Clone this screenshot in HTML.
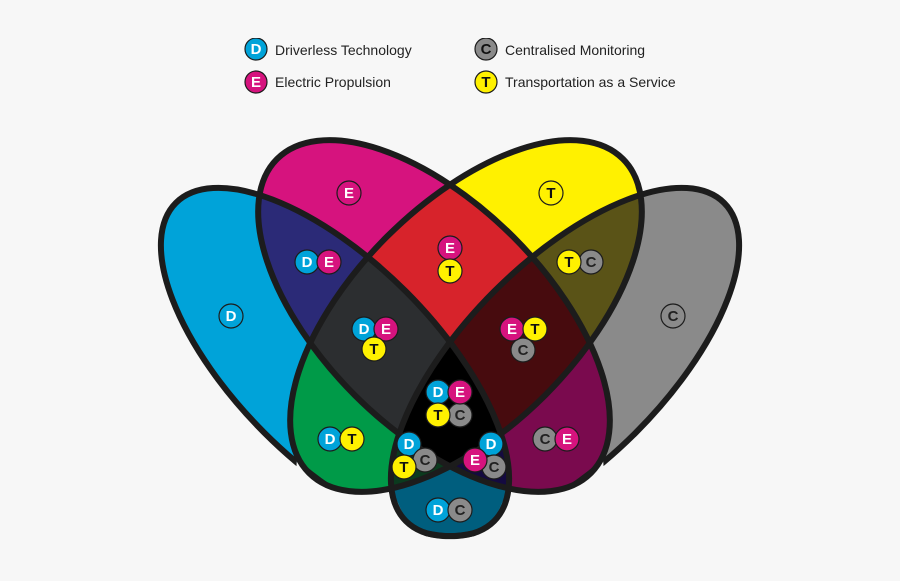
<!DOCTYPE html>
<html><head><meta charset="utf-8"><style>
html,body{margin:0;padding:0;background:#f7f7f7;}
svg{display:block;}
.lt{font-family:"Liberation Sans",sans-serif;font-size:14px;fill:#222;}
</style></head><body>
<svg width="900" height="581" viewBox="0 0 900 581" xmlns="http://www.w3.org/2000/svg">
<defs>
<ellipse id="eD" cx="335" cy="362" rx="225" ry="100" transform="rotate(45 335 362)"/>
<ellipse id="eC" cx="565" cy="362" rx="225" ry="100" transform="rotate(-45 565 362)"/>
<ellipse id="eE" cx="434" cy="316" rx="222" ry="112" transform="rotate(45 434 316)"/>
<ellipse id="eT" cx="466" cy="316" rx="222" ry="112" transform="rotate(-45 466 316)"/>
<clipPath id="pD"><polygon points="0,0 900,0 900,581 470,581 463,560 440,545 420,533 406,521 391,487 370,491 335,488 309,473 297,457 290,581 0,581"/></clipPath>
<clipPath id="pC"><polygon points="900,0 0,0 0,581 430,581 437,560 460,545 480,533 494,521 509,487 530,491 565,488 591,473 603,457 610,581 900,581"/></clipPath>
<clipPath id="cD"><use href="#eD" clip-path="url(#pD)"/></clipPath>
<clipPath id="cC"><use href="#eC" clip-path="url(#pC)"/></clipPath>
<clipPath id="cE"><use href="#eE"/></clipPath>
<clipPath id="cT"><use href="#eT"/></clipPath>
</defs>
<rect width="900" height="581" fill="#f7f7f7"/>
<g clip-path="url(#pD)"><use href="#eD" fill="#00a3d9"/></g>
<g clip-path="url(#pC)"><use href="#eC" fill="#8a8a8a"/></g>
<use href="#eE" fill="#d6137e"/>
<use href="#eT" fill="#fff100"/>
<g clip-path="url(#cD)"><use href="#eE" fill="#2b2a77"/></g>
<g clip-path="url(#cD)"><use href="#eT" fill="#009a48"/></g>
<g clip-path="url(#cD)"><g clip-path="url(#pC)"><use href="#eC" fill="#005e7e"/></g></g>
<g clip-path="url(#cE)"><use href="#eT" fill="#d7232b"/></g>
<g clip-path="url(#cE)"><g clip-path="url(#pC)"><use href="#eC" fill="#7a0a4e"/></g></g>
<g clip-path="url(#cT)"><g clip-path="url(#pC)"><use href="#eC" fill="#5a5317"/></g></g>
<g clip-path="url(#cD)"><g clip-path="url(#cE)"><use href="#eT" fill="#2c2e30"/></g></g>
<g clip-path="url(#cE)"><g clip-path="url(#cT)"><g clip-path="url(#pC)"><use href="#eC" fill="#470b0e"/></g></g></g>
<g clip-path="url(#cD)"><g clip-path="url(#cT)"><g clip-path="url(#pC)"><use href="#eC" fill="#0b3a1e"/></g></g></g>
<g clip-path="url(#cD)"><g clip-path="url(#cE)"><g clip-path="url(#pC)"><use href="#eC" fill="#140a40"/></g></g></g>
<g clip-path="url(#cD)"><g clip-path="url(#cE)"><g clip-path="url(#cT)"><g clip-path="url(#pC)"><use href="#eC" fill="#000"/></g></g></g></g>
<g fill="none" stroke="#1c1c1c" stroke-width="6">
<g clip-path="url(#pD)"><use href="#eD"/></g>
<g clip-path="url(#pC)"><use href="#eC"/></g>
<use href="#eE"/><use href="#eT"/>
</g>
<rect x="0" y="541" width="900" height="40" fill="#f7f7f7"/>

<g font-family="Liberation Sans" font-weight="bold" font-size="15" text-anchor="middle">
<g fill="#00a3d9" stroke="#1c1c1c" stroke-width="1.2">
<circle cx="231" cy="316" r="12"/><circle cx="307" cy="262" r="12"/><circle cx="364" cy="329" r="12"/>
<circle cx="438" cy="392" r="12"/><circle cx="330" cy="439" r="12"/><circle cx="409" cy="444" r="12"/>
<circle cx="491" cy="444" r="12"/><circle cx="438" cy="510" r="12"/>
</g>
<g fill="#fff">
<text x="231" y="321">D</text><text x="307" y="267">D</text><text x="364" y="334">D</text>
<text x="438" y="397">D</text><text x="330" y="444">D</text><text x="409" y="449">D</text>
<text x="491" y="449">D</text><text x="438" y="515">D</text>
</g>
<g fill="#8a8a8a" stroke="#1c1c1c" stroke-width="1.2">
<circle cx="673" cy="316" r="12"/><circle cx="591" cy="262" r="12"/><circle cx="523" cy="350" r="12"/>
<circle cx="460" cy="415" r="12"/><circle cx="545" cy="439" r="12"/><circle cx="425" cy="460" r="12"/>
<circle cx="494" cy="467" r="12"/><circle cx="460" cy="510" r="12"/>
</g>
<g fill="#222">
<text x="673" y="321">C</text><text x="591" y="267">C</text><text x="523" y="355">C</text>
<text x="460" y="420">C</text><text x="545" y="444">C</text><text x="425" y="465">C</text>
<text x="494" y="472">C</text><text x="460" y="515">C</text>
</g>
<g fill="#d6137e" stroke="#1c1c1c" stroke-width="1.2">
<circle cx="349" cy="193" r="12"/><circle cx="329" cy="262" r="12"/><circle cx="450" cy="248" r="12"/>
<circle cx="386" cy="329" r="12"/><circle cx="512" cy="329" r="12"/><circle cx="460" cy="392" r="12"/>
<circle cx="567" cy="439" r="12"/><circle cx="475" cy="460" r="12"/>
</g>
<g fill="#fff">
<text x="349" y="198">E</text><text x="329" y="267">E</text><text x="450" y="253">E</text>
<text x="386" y="334">E</text><text x="512" y="334">E</text><text x="460" y="397">E</text>
<text x="567" y="444">E</text><text x="475" y="465">E</text>
</g>
<g fill="#fff100" stroke="#1c1c1c" stroke-width="1.2">
<circle cx="551" cy="193" r="12"/><circle cx="450" cy="271" r="12"/><circle cx="569" cy="262" r="12"/>
<circle cx="374" cy="349" r="12"/><circle cx="535" cy="329" r="12"/><circle cx="438" cy="415" r="12"/>
<circle cx="352" cy="439" r="12"/><circle cx="404" cy="467" r="12"/>
</g>
<g fill="#111">
<text x="551" y="198">T</text><text x="450" y="276">T</text><text x="569" y="267">T</text>
<text x="374" y="354">T</text><text x="535" y="334">T</text><text x="438" y="420">T</text>
<text x="352" y="444">T</text><text x="404" y="472">T</text>
</g>
<circle cx="256" cy="49" r="11" fill="#00a3d9" stroke="#1c1c1c" stroke-width="1.2"/>
<text x="256" y="54" fill="#fff">D</text>
<circle cx="256" cy="82" r="11" fill="#d6137e" stroke="#1c1c1c" stroke-width="1.2"/>
<text x="256" y="87" fill="#fff">E</text>
<circle cx="486" cy="49" r="11" fill="#8a8a8a" stroke="#1c1c1c" stroke-width="1.2"/>
<text x="486" y="54" fill="#111">C</text>
<circle cx="486" cy="82" r="11" fill="#fff100" stroke="#1c1c1c" stroke-width="1.2"/>
<text x="486" y="87" fill="#111">T</text>
</g>
<rect x="240" y="0" width="260" height="38" fill="#f7f7f7"/>
<text class="lt" x="275" y="55">Driverless Technology</text>
<text class="lt" x="275" y="87">Electric Propulsion</text>
<text class="lt" x="505" y="55">Centralised Monitoring</text>
<text class="lt" x="505" y="87">Transportation as a Service</text>
</svg>
</body></html>
